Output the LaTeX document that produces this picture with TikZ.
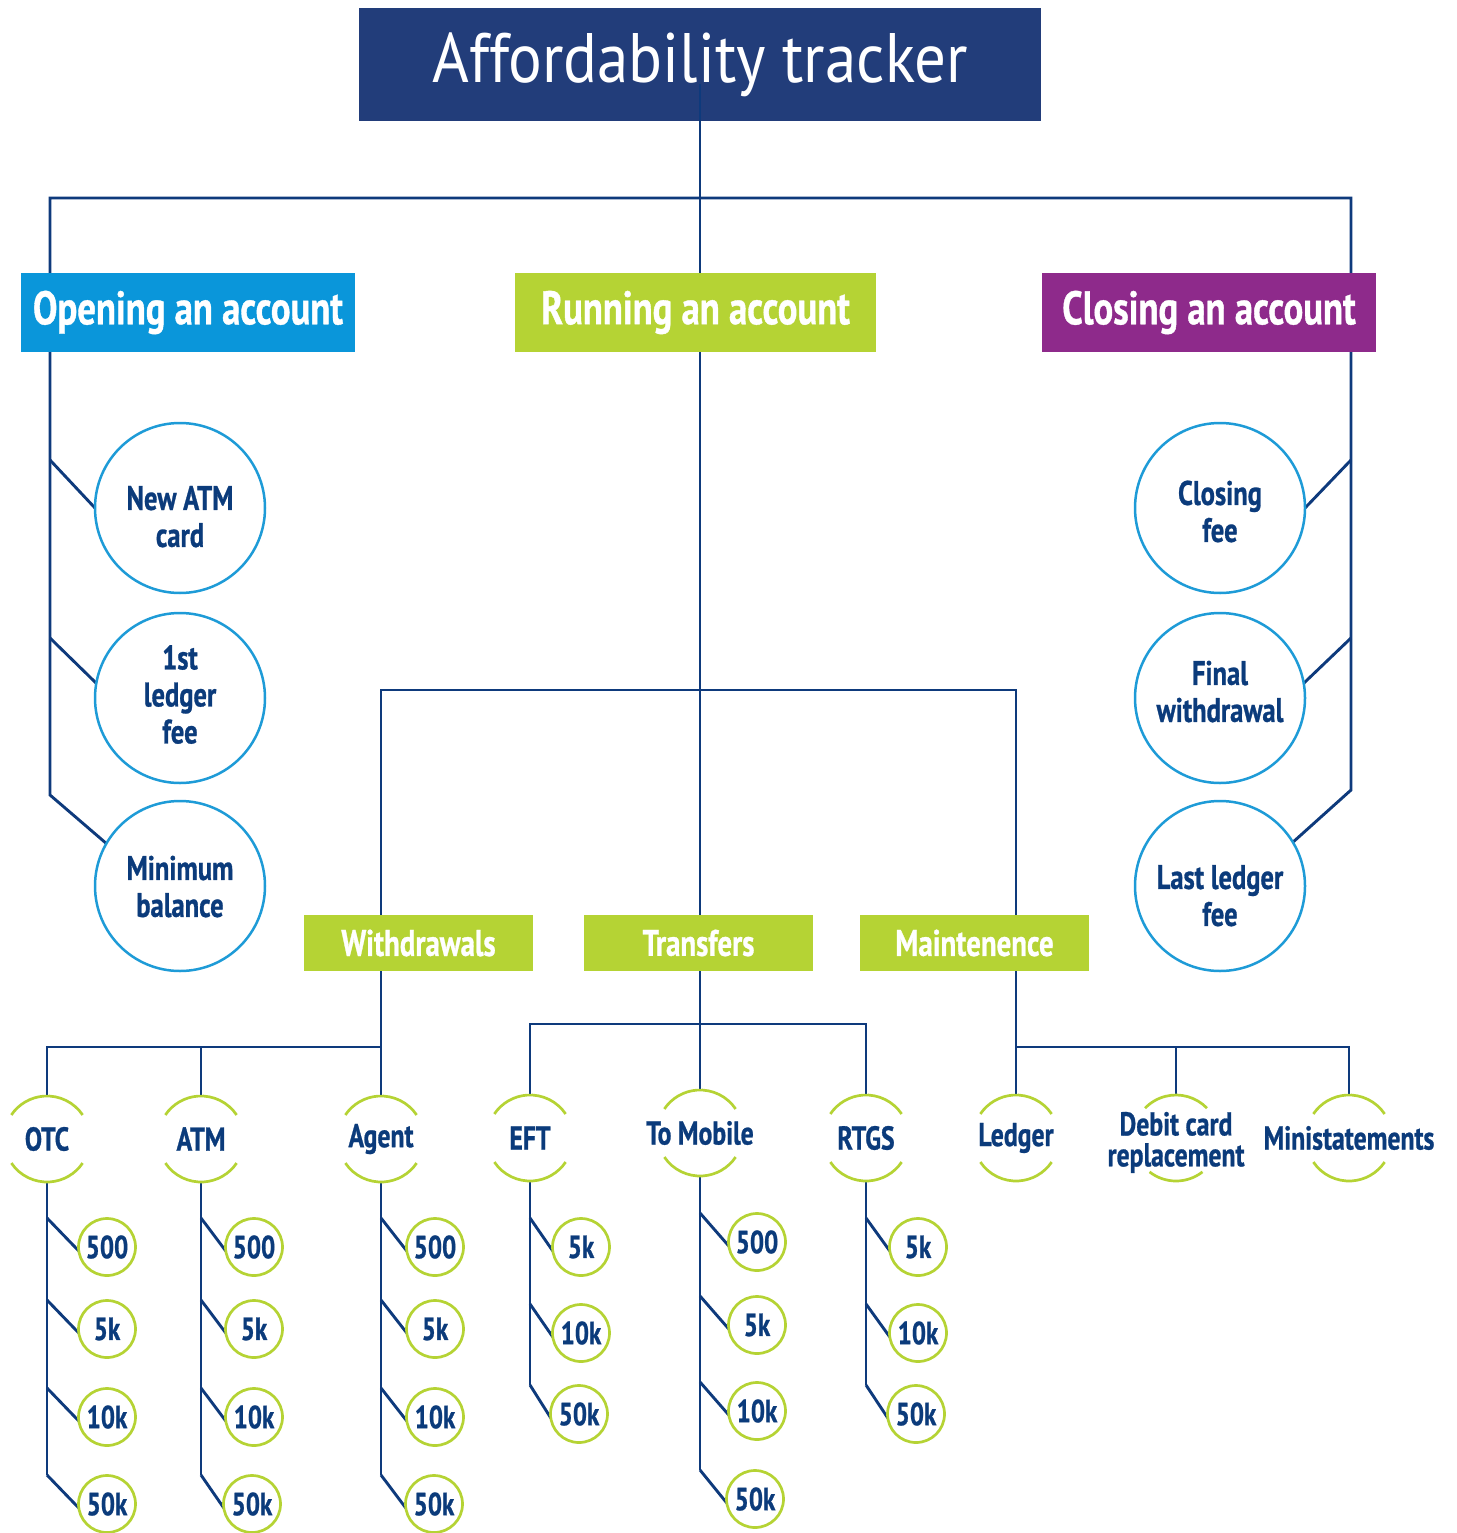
\documentclass[tikz,border=0pt]{standalone}
\usepackage{fontspec}
\newfontfamily\condf{PT Sans}[FakeStretch=0.78, BoldFeatures={FakeBold=0.8}]
\newfontfamily\titlef{PT Sans}[FakeStretch=0.9]
\usetikzlibrary{calc}
\pgfdeclarelayer{bottom}
\pgfdeclarelayer{lines}
\pgfsetlayers{bottom,lines,main}
\definecolor{navyline}{HTML}{0E3A7C}
\definecolor{titlefill}{HTML}{223D7A}
\definecolor{navytxt}{HTML}{0B3B7B}
\definecolor{cyanbox}{HTML}{0A96DA}
\definecolor{cyanring}{HTML}{1E9BD7}
\definecolor{limec}{HTML}{B5D334}
\definecolor{purplec}{HTML}{8E2A8B}
\newcommand\ringarcs[3]{%
  \draw[ringline] ([shift={(#3:#2pt)}]#1.center) arc[start angle=#3, end angle={180-#3}, radius=#2pt];
  \draw[ringline] ([shift={({180+#3}:#2pt)}]#1.center) arc[start angle={180+#3}, end angle={360-#3}, radius=#2pt];}
\newcommand\zw[1]{\makebox[0pt]{#1}}
\newcommand\shiftlines[2]{\raisebox{#1}[\height][\depth]{\begin{tabular}{@{}c@{}}#2\end{tabular}}}
\begin{document}
\begin{tikzpicture}[x=1pt,y=-1pt,
  conn/.style={draw=navyline, line width=2.9pt},
  topbox/.style={rectangle, minimum width=334pt, minimum height=79pt, inner sep=0pt, outer sep=0pt, text=white, font=\condf\bfseries\fontsize{47}{52}\selectfont},
  bigc/.style={circle, draw=cyanring, line width=2.5pt, fill=white, minimum size=170pt, inner sep=0pt, outer sep=0pt, text=navytxt, align=center, font=\condf\bfseries\fontsize{34}{37}\selectfont},
  subbox/.style={rectangle, fill=limec, minimum width=229pt, minimum height=56pt, inner sep=0pt, outer sep=0pt, text=white, font=\condf\bfseries\fontsize{37}{40}\selectfont},
  ring/.style={circle, minimum size=86pt, inner sep=0pt, outer sep=0pt, text=navytxt, font=\condf\bfseries\fontsize{33}{26}\selectfont},
  ringline/.style={draw=limec, line width=2.7pt},
  smallc/.style={circle, draw=limec, line width=2.7pt, fill=white, minimum size=57pt, inner sep=0pt, outer sep=0pt, text=navytxt, font=\condf\bfseries\fontsize{32}{34}\selectfont}
]
\useasboundingbox (0,0) rectangle (1456,1533);

% title
\begin{pgfonlayer}{bottom}
\node[rectangle, fill=titlefill, minimum width=682pt, minimum height=113pt, inner sep=0pt, outer sep=0pt, text=white, font=\titlef\fontsize{70}{80}\selectfont] (title) at (700,64.5) {Affordability tracker};
\end{pgfonlayer}

% level 1 boxes
\node[topbox, fill=cyanbox] (open) at (188,312.5) {Opening an account};
\node[topbox, fill=limec, minimum width=361pt] (run) at (695.5,312.5) {Running an account};
\node[topbox, fill=purplec] (close) at (1209,312.5) {Closing an account};

% big circles
\node[bigc] (newatm) at (180,508) {\shiftlines{-13pt}{New ATM\\card}};
\node[bigc] (ledger1) at (180,698) {\shiftlines{-1pt}{1st\\ledger\\fee}};
\node[bigc] (minbal) at (180,886) {\shiftlines{-5pt}{Minimum\\balance}};
\node[bigc] (closefee) at (1220,508) {\shiftlines{-8pt}{Closing\\fee}};
\node[bigc] (finalw) at (1220,698) {\shiftlines{2pt}{Final\\withdrawal}};
\node[bigc] (lastledger) at (1220,886) {\shiftlines{-14pt}{Last ledger\\fee}};

% level 2 boxes
\node[subbox] (wd) at (418.5,943) {Withdrawals};
\node[subbox] (tr) at (698.5,943) {Transfers};
\node[subbox] (mt) at (974.5,943) {Maintenence};

% rings
\node[ring] (otc) at (47,1139) {\zw{OTC}};
\node[ring] (atm) at (201,1139) {\zw{ATM}};
\node[ring] (agent) at (381,1139) {\zw{Agent}};
\node[ring] (eft) at (530,1138) {\zw{EFT}};
\node[ring] (tomobile) at (700,1133) {\zw{To Mobile}};
\node[ring] (rtgs) at (866,1138) {\zw{RTGS}};
\node[ring] (ledger) at (1016,1138) {\zw{Ledger}};
\node[ring] (debit) at (1176,1138) {\zw{\shiftlines{-5pt}{Debit card\\replacement}}};
\node[ring] (mini) at (1349,1138) {\zw{Ministatements}};
\ringarcs{otc}{43}{34}
\ringarcs{atm}{43}{34}
\ringarcs{agent}{43}{34}
\ringarcs{eft}{43}{34}
\ringarcs{tomobile}{43}{34}
\ringarcs{rtgs}{43}{34}
\ringarcs{ledger}{43}{34}
\ringarcs{mini}{43}{34}
\draw[ringline] ([shift={(44:43pt)}]debit.center) arc[start angle=44, end angle=136, radius=43pt];
\draw[ringline] ([shift={(232:43pt)}]debit.center) arc[start angle=232, end angle=308, radius=43pt];

% small circles
\node[smallc] (otc500) at (107,1247) {500};
\node[smallc] (otc5k) at (107,1329) {5k};
\node[smallc] (otc10k) at (107,1417) {10k};
\node[smallc] (otc50k) at (107,1504) {50k};
\node[smallc] (atm500) at (254,1247) {500};
\node[smallc] (atm5k) at (254,1329) {5k};
\node[smallc] (atm10k) at (254,1417) {10k};
\node[smallc] (atm50k) at (252,1504) {50k};
\node[smallc] (agent500) at (435,1247) {500};
\node[smallc] (agent5k) at (435,1329) {5k};
\node[smallc] (agent10k) at (435,1417) {10k};
\node[smallc] (agent50k) at (434,1504) {50k};
\node[smallc] (eft5k) at (581,1247) {5k};
\node[smallc] (eft10k) at (581,1333) {10k};
\node[smallc] (eft50k) at (579,1414) {50k};
\node[smallc] (mob500) at (757,1242) {500};
\node[smallc] (mob5k) at (757,1325) {5k};
\node[smallc] (mob10k) at (757,1411) {10k};
\node[smallc] (mob50k) at (755,1499) {50k};
\node[smallc] (rtgs5k) at (918,1247) {5k};
\node[smallc] (rtgs10k) at (918,1333) {10k};
\node[smallc] (rtgs50k) at (916,1414) {50k};

% coordinates
\coordinate (tl) at (50,198);
\coordinate (tr) at (1351,198);
\coordinate (lb) at (50,795);
\coordinate (rb) at (1351,790);
\coordinate (l1) at (50,460);
\coordinate (l2) at (50,638);
\coordinate (r1) at (1351,460);
\coordinate (r2) at (1351,638);
\coordinate (rl) at (381,690);
\coordinate (rr) at (1016,690);
\coordinate (wbar) at (381,1047);
\coordinate (tbar) at (700,1024);
\coordinate (mbar) at (1016,1047);

\begin{pgfonlayer}{lines}
\draw[conn] ([yshift=-20pt]title.center) -- (tomobile.north);
\draw[conn] (minbal.150) -- (lb) -- (tl) -- (tr) -- (rb) -- (lastledger.31);
\draw[conn] (l1) -- (newatm.west);
\draw[conn] (l2) -- (ledger1.170);
\draw[conn] (r1) -- (closefee.east);
\draw[conn] (r2) -- (finalw.10);
\draw[conn] (agent.north) -- (rl) -- (rr) -- (ledger.north);
\draw[conn] (otc.north) |- (wbar);
\draw[conn] (atm.north) -- (atm.north |- wbar);
\draw[conn] (eft.north) |- (tbar) -| (rtgs.north);
\draw[conn] (debit.north) -- (debit.north |- mbar);
\draw[conn] (mbar) -| (mini.north);
\foreach \p/\k in {otc/otc50k, atm/atm50k, agent/agent50k, eft/eft50k, tomobile/mob50k, rtgs/rtgs50k}
  {\draw[conn] (\p.south) -- ($(\p.center |- \k.center)+(0,-29)$);}
\foreach \p/\k in {otc/otc500, otc/otc5k, otc/otc10k, otc/otc50k,
                   atm/atm500, atm/atm5k, atm/atm10k, atm/atm50k,
                   agent/agent500, agent/agent5k, agent/agent10k, agent/agent50k,
                   eft/eft5k, eft/eft10k, eft/eft50k,
                   tomobile/mob500, tomobile/mob5k, tomobile/mob10k, tomobile/mob50k,
                   rtgs/rtgs5k, rtgs/rtgs10k, rtgs/rtgs50k}
  {\draw[conn] ($(\p.center |- \k.center)+(0,-29)$) -- (\k.188);}
\end{pgfonlayer}
\end{tikzpicture}
\end{document}
